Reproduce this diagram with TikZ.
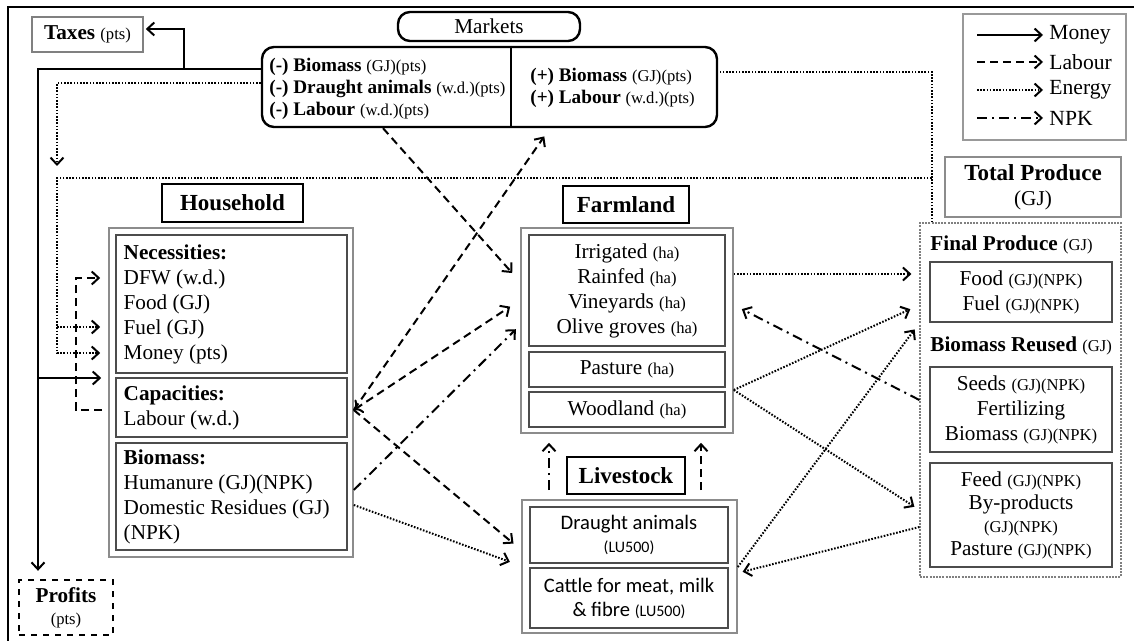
\documentclass[tikz,border=0pt]{standalone}
\usepackage{fontspec}
\setmainfont{Liberation Serif}
\newfontfamily\calfont{Carlito}
\usepackage{tikz}
\usetikzlibrary{arrows.meta, fit, positioning, calc}

\newcommand{\unitfont}{\fontsize{8.3}{10}\selectfont}
\newcommand{\lsunit}{\calfont\fontsize{8}{10}\selectfont}

\tikzset{
  base/.style={font=\fontsize{10.6}{12.5}\selectfont},
  titlebox/.style={draw, line width=1.1pt, inner sep=0pt, font=\fontsize{11.5}{13}\selectfont\bfseries},
  outerbox/.style={draw=black!45, line width=0.8pt, inner sep=0pt},
  innerbox/.style={draw=black!70, line width=0.7pt, inner sep=0pt, align=center},
  mktbox/.style={draw, line width=1.2pt, rounded corners=6pt, inner sep=0pt},
  mkttext/.style={anchor=west, align=left, inner sep=0pt, font=\fontsize{9.6}{11}\selectfont},
  hhtext/.style={anchor=west, align=left, inner sep=0pt, xshift=4pt},
  legtext/.style={anchor=west, inner sep=0pt, font=\fontsize{10.8}{12.5}\selectfont},
  flow/.style={line width=1pt, -{Straight Barb[length=3.5pt,width=6.5pt]}, shorten >=1pt},
  money/.style={flow},
  labour/.style={flow, dash pattern=on 4pt off 2.5pt},
  energy/.style={flow, dash pattern=on 0.8pt off 0.8pt},
  npk/.style={flow, dash pattern=on 5pt off 2.5pt on 1pt off 2.5pt}
}

\begin{document}
\begin{tikzpicture}[x=0.5pt, y=-0.5pt, base]
\useasboundingbox (0,0) rectangle (1134,641);

% frame
\draw[line width=0.8pt] (8,641) -- (8,7) -- (1134,7);

% legend
\node[draw=black!40, line width=0.6pt, inner sep=0pt, fit={(963,14) (1126,140)}] (leg) {};
\node[legtext] (lgmoney) at (1049,35) {\textrm{Money}};
\node[legtext] (lglabour) at (1049,62) {\textrm{Labour}};
\node[legtext] (lgenergy) at (1049,90) {\textrm{Energy}};
\node[legtext] (lgnpk) at (1049,118) {\textrm{NPK}};
\draw[money, shorten >=3pt] (977,35) -- (lgmoney.west);
\draw[labour, shorten >=3pt] (977,62) -- (lglabour.west);
\draw[energy, shorten >=3pt] (977,90) -- (lgenergy.west);
\draw[npk, shorten >=3pt] (977,118) -- (lgnpk.west);

% markets
\node[mktbox, minimum width=91pt, minimum height=14.5pt] (mkttitle) at (489,26.5) {Markets};
\node[mktbox, fit={(262,47) (717,127)}] (mkt) {};
\draw[line width=1pt] (mkt.north -| 511,0) -- (mkt.south -| 511,0);
\node[mkttext] (mktout) at (269,89) {\textbf{(-) Biomass} {\unitfont(GJ)(pts)}\\
  \textbf{(-) Draught animals} {\unitfont(w.d.)(pts)}\\
  \textbf{(-) Labour} {\unitfont(w.d.)(pts)}};
\node[mkttext] (mktin) at (530,88) {\textbf{(+) Biomass} {\unitfont(GJ)(pts)}\\
  \textbf{(+) Labour} {\unitfont(w.d.)(pts)}};

% taxes, profits
\node[draw=black!50, line width=0.8pt, inner sep=0pt, minimum width=55.5pt, minimum height=17.5pt] (tax) at (87.5,34.5) {\textbf{Taxes} {\unitfont(pts)}};
\node[draw, dashed, line width=1.2pt, inner sep=0pt, align=center, minimum width=47pt, minimum height=27.5pt] (prof) at (66,607.5) {\textbf{Profits}\\[-1.5pt]{\unitfont(pts)}};

% household
\node[titlebox, minimum width=70.5pt, minimum height=19pt] (hhtitle) at (232.5,203) {Household};
\node[outerbox, fit={(109,228) (353,557)}] (hh) {};
\node[innerbox, minimum width=115.5pt, minimum height=69pt] (need) at (231.5,304) {};
\node[innerbox, minimum width=115.5pt, minimum height=29.5pt] (capa) at (231.5,407.5) {};
\node[innerbox, minimum width=115.5pt, minimum height=53.5pt] (bio) at (231.5,496.5) {};
\node[hhtext] (needtxt) at (need.west) {\textbf{Necessities:}\\DFW (w.d.)\\Food (GJ)\\Fuel (GJ)\\Money (pts)};
\node[hhtext] (capatxt) at (capa.west) {\textbf{Capacities:}\\Labour (w.d.)};
\node[hhtext] (biotxt) at (bio.west) {\textbf{Biomass:}\\Humanure (GJ)(NPK)\\Domestic Residues (GJ)\\(NPK)};

% farmland
\node[titlebox, minimum width=63pt, minimum height=18.5pt] (fltitle) at (626,204.5) {Farmland};
\node[outerbox, fit={(521,228) (733,433)}] (fl) {};
\node[innerbox, minimum width=98pt, minimum height=55.5pt] (crops) at (627,290.5) {Irrigated {\unitfont(ha)}\\Rainfed {\unitfont(ha)}\\Vineyards {\unitfont(ha)}\\Olive groves {\unitfont(ha)}};
\node[innerbox, minimum width=98pt, minimum height=17.5pt] (past) at (627,369.5) {Pasture {\unitfont(ha)}};
\node[innerbox, minimum width=98pt, minimum height=17.5pt] (wood) at (627,409.5) {Woodland {\unitfont(ha)}};

% livestock
\node[titlebox, minimum width=59pt, minimum height=18.5pt] (lstitle) at (626,475.5) {Livestock};
\node[outerbox, fit={(522,500) (737,633)}] (ls) {};
\node[innerbox, minimum width=99pt, minimum height=28pt, font=\calfont\fontsize{10.3}{11.5}\selectfont] (draught) at (629,535) {Draught animals\\{\lsunit(LU500)}};
\node[innerbox, minimum width=99pt, minimum height=30pt, font=\calfont\fontsize{10.3}{12}\selectfont] (cattle) at (629,598) {Cattle for meat, milk\\\& fibre {\lsunit(LU500)}};

% total produce
\node[draw=black!45, line width=0.7pt, inner sep=0pt, align=center, minimum width=88pt, minimum height=30pt] (tptitle) at (1033,187) {{\fontsize{11.5}{13}\selectfont\bfseries Total Produce}\\(GJ)};
\node[draw=black!50, line width=0.6pt, dash pattern=on 1pt off 0.6pt, inner sep=0pt, fit={(920,223) (1121,577)}] (tp) {};
\node[anchor=west, inner sep=0pt] (finaltxt) at (930,245) {\textbf{Final Produce} {\unitfont(GJ)}};
\node[innerbox, minimum width=91pt, minimum height=30pt] (final) at (1021,292) {Food {\unitfont(GJ)(NPK)}\\Fuel {\unitfont(GJ)(NPK)}};
\node[anchor=west, inner sep=0pt] (reusetxt) at (930,346) {\textbf{Biomass Reused} {\unitfont(GJ)}};
\node[innerbox, minimum width=91pt, minimum height=42.5pt] (reuse) at (1021,409.5) {Seeds {\unitfont(GJ)(NPK)}\\Fertilizing\\Biomass {\unitfont(GJ)(NPK)}};
\node[innerbox, minimum width=91pt, minimum height=52pt, font=\fontsize{10.6}{11.5}\selectfont] (feed) at (1021,515) {Feed {\unitfont(GJ)(NPK)}\\By-products\\{\unitfont(GJ)(NPK)}\\Pasture {\unitfont(GJ)(NPK)}};

% money
\draw[money, shorten >=4pt] (mkt.west |- 0,69) -- (38,69) -- (38,0 |- prof.north);
\draw[money] (184,69) -- (184,29) -- (tax.east |- 0,29);
\draw[money, shorten >=3.5pt] (38,378) -- (hh.west |- 0,378);

% energy
\coordinate (enin) at (57,168);
\draw[energy] (mkt.west |- 0,83) -- (57,83) -- (enin);
\draw[energy, shorten >=4pt] (tp.north -| 932,0) -- (932,178) -- (57,178) -- (57,353) -- (hh.west |- 0,353);
\draw[energy, shorten >=4pt] (57,327) -- (hh.west |- 0,327);
\draw[energy, -] (932,178) -- (932,72) -- (mkt.east |- 0,72);
\draw[energy, shorten >=4pt] (fl.east |- 0,274) -- (tp.west |- 0,274);
\draw[energy, shorten >=5pt] (fl.east |- 0,390) -- (tp.west |- 0,305);
\draw[energy, shorten >=3pt] (fl.east |- 0,390) -- (tp.west |- 0,510);
\draw[energy, shorten >=4pt] (ls.east |- 0,567) -- (tp.west |- 0,323);
\draw[energy, shorten >=2.5pt] (tp.west |- 0,527) -- (ls.east |- 0,573);
\draw[energy, shorten >=6pt] (hh.east |- 0,505) -- (ls.west |- 0,566);

% labour
\draw[labour, shorten >=6pt] (mkt.south -| 383,0) -- (fl.west |- 0,282);
\draw[labour, shorten >=5pt] (hh.east |- 0,410) -- (mkt.south -| 550,0);
\draw[labour, <-{Straight Barb[length=3.5pt,width=6.5pt]}, shorten >=6pt] (hh.east |- 0,410) -- (fl.west |- 0,300);
\draw[labour, shorten >=5pt] (hh.east |- 0,410) -- (ls.west |- 0,550);
\draw[labour, shorten <=3pt, shorten >=4pt] (hh.west |- 0,410) -- (76,410) -- (76,278) -- (hh.west |- 0,278);
\draw[labour, shorten <=4.5pt, shorten >=4.5pt] (ls.north -| 701,0) -- (fl.south -| 701,0);

% npk
\draw[npk, shorten >=3pt] (hh.east |- 0,490) -- (fl.west |- 0,325);
\draw[npk, shorten >=4.5pt] (tp.west |- 0,400) -- (fl.east |- 0,305);
\draw[npk, shorten <=4.5pt, shorten >=4.5pt] (ls.north -| 549,0) -- (fl.south -| 549,0);

\end{tikzpicture}
\end{document}
